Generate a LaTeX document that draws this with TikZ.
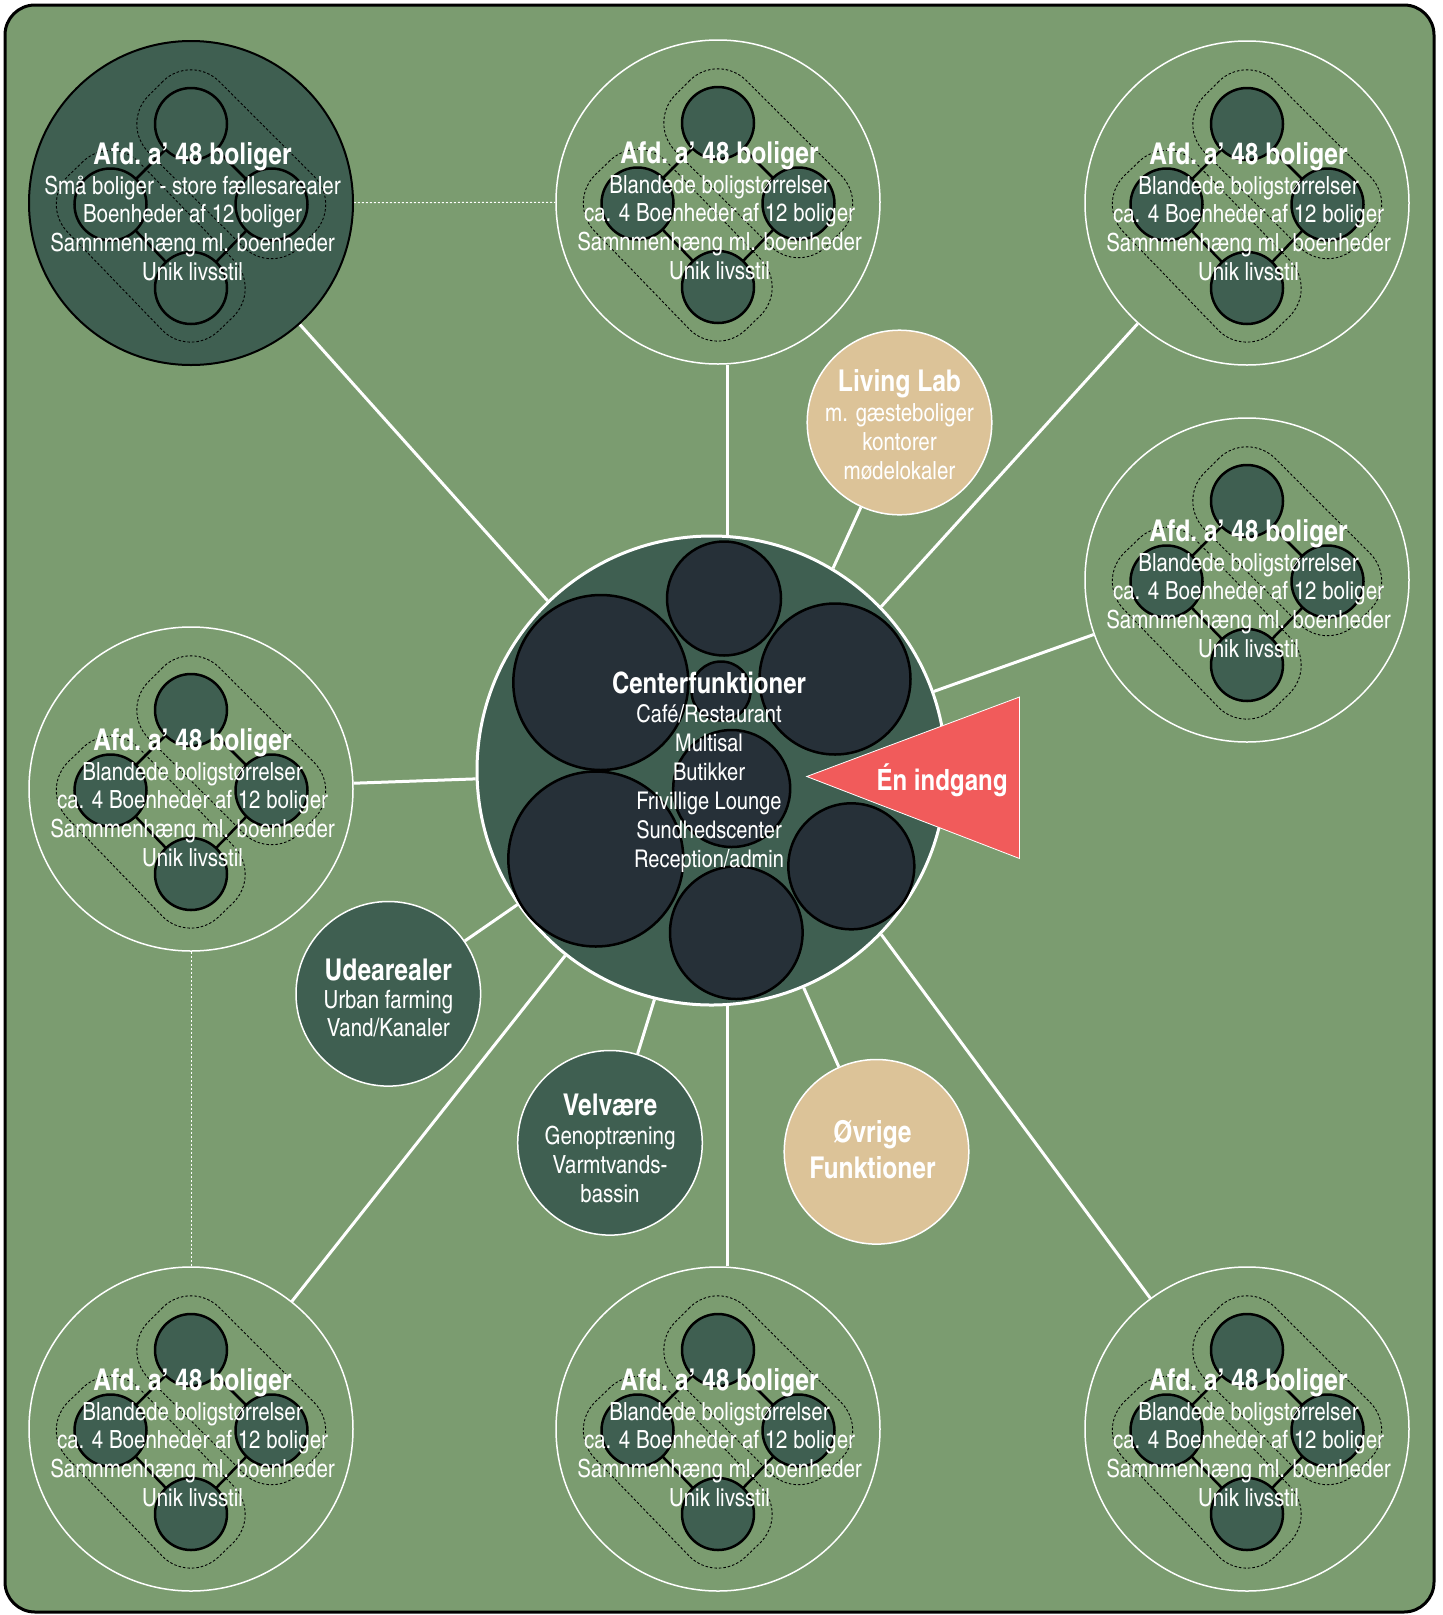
\documentclass[tikz,border=0pt]{standalone}
\usepackage{fontspec}
\setmainfont{texgyreheroscn}[Extension=.otf, UprightFont=*-regular, BoldFont=*-bold]
\usetikzlibrary{calc}

\definecolor{field}{HTML}{7B9C70}
\definecolor{pine}{HTML}{3F5F51}
\definecolor{slate}{HTML}{263038}
\definecolor{sand}{HTML}{DCC398}
\definecolor{signal}{HTML}{F15B5B}

\newcommand{\bodyfont}{\fontsize{25}{28.67}\selectfont}
\newcommand{\headfont}{\fontsize{30}{34}\selectfont\bfseries}
\newcommand{\lines}[1]{\begin{tabular}[t]{@{}c@{}}#1\end{tabular}}

\pgfdeclarelayer{paper}
\pgfdeclarelayer{links}
\pgfsetlayers{paper,links,main}

\tikzset{
  ring/.style={circle, draw=white, line width=1.5pt, minimum size=324pt, inner sep=0pt},
  ringdark/.style={ring, fill=pine, draw=black, line width=2pt},
  unit/.style={draw=black, line width=2.5pt, fill=pine},
  zone/.style={draw=black, line width=0.9pt, dash pattern=on 2.5pt off 2pt, rounded corners=40pt},
  link/.style={draw=black, line width=2.5pt},
  spoke/.style={draw=white, line width=3pt},
  dotlink/.style={draw=white, line width=1pt, dash pattern=on 2pt off 2pt},
  hall/.style={draw=black, line width=2.5pt, fill=slate},
  sat/.style={circle, draw=white, line width=1.5pt, minimum size=184.6pt, inner sep=0pt},
  lbl/.style={text=white, inner sep=0pt, anchor=base, font=\bodyfont},
}

% one housing department: ring, two dashed zones, four linked units, text
\newcommand{\afdeling}[4]{%
  \node[#3] (#1) at #2 {};
  \begin{scope}[shift={#2}]
    \draw[zone, shift={(40.25,-38.75)}, rotate=-45] (-107,-50) rectangle (107,50);
    \draw[zone, shift={(-40.25,43.25)}, rotate=-46] (-108,-50) rectangle (108,50);
    \draw[link] (0,-79) -- (80.5,1.5) -- (0,85) -- (-80.5,1.5) -- cycle;
    \foreach \ux/\uy in {0/-79, 80.5/1.5, 0/85, -80.5/1.5}
      \draw[unit] (\ux,\uy) circle[radius=36pt];
    \node[lbl] (#1-text) at (1.5,-38.7) {\lines{#4}};
  \end{scope}}

\newcommand{\mixed}{\headfont Afd.~a’ 48 boliger\\[1.33pt] Blandede boligstørrelser\\ ca. 4 Boenheder af 12 boliger\\ Samnmenhæng ml. boenheder\\ Unik livsstil}

\begin{document}
\begin{tikzpicture}[x=1pt, y=-1pt]
\useasboundingbox (0,0) rectangle (1443,1615);

\begin{pgfonlayer}{paper}
  \fill[white] (0,0) rectangle (1443,1615);
  \draw[line width=3pt, fill=field, rounded corners=30pt] (5,5) rectangle (1434,1612);
\end{pgfonlayer}

% housing departments
\afdeling{tl}{(191,203)}{ringdark}{\headfont Afd.~a’ 48 boliger\\[1.33pt] Små boliger - store fællesarealer\\ Boenheder af 12 boliger\\ Samnmenhæng ml. boenheder\\ Unik livsstil}
\afdeling{tm}{(718,202)}{ring}{\mixed}
\afdeling{tr}{(1247,203)}{ring}{\mixed}
\afdeling{rm}{(1247,580)}{ring}{\mixed}
\afdeling{lm}{(191,789)}{ring}{\mixed}
\afdeling{bl}{(191,1429)}{ring}{\mixed}
\afdeling{bm}{(718,1429)}{ring}{\mixed}
\afdeling{br}{(1247,1429)}{ring}{\mixed}

% satellite functions
\node[sat, fill=sand] (ll) at (899.5,422.5) {};
\node[sat, fill=pine] (ud) at (388.3,993.8) {};
\node[sat, fill=pine] (vv) at (610,1142.8) {};
\node[sat, fill=sand] (ov) at (876.5,1151.8) {};

% centre
\node[circle, fill=pine, draw=white, line width=3pt, minimum size=469pt, inner sep=0pt] (cc) at (711.5,770.5) {};
\draw[hall] (724,598.5) circle[radius=57pt];
\draw[hall] (600.8,682.5) circle[radius=87.5pt];
\draw[hall] (835,679) circle[radius=75.5pt];
\draw[hall] (721,691) circle[radius=29.5pt];
\draw[hall] (731.7,788.5) circle[radius=58.5pt];
\draw[hall] (595.8,859) circle[radius=87.5pt];
\draw[hall] (736.3,932.7) circle[radius=66.3pt];
\draw[hall] (851.3,866.3) circle[radius=63pt];

\node[lbl, font={\fontsize{24.4}{29}\selectfont}] (cc-text) at (709,693.3)
  {\lines{\fontsize{29.3}{34}\selectfont\bfseries Centerfunktioner\\[0.4pt] Café/Restaurant\\ Multisal\\ Butikker\\ Frivillige Lounge\\ Sundhedscenter\\ Reception/admin}};

% entrance
\fill[signal, draw=white, line width=0.8pt] (806.7,776.5) -- (1019.5,697) -- (1019.5,858.5) -- cycle;
\node[lbl, font={\fontsize{29.3}{34}\selectfont\bfseries}] (entry) at (942,790.7) {Én indgang};

% satellite texts
\node[lbl] (ll-text) at (899.5,391.7) {\lines{\headfont Living Lab\\[1.3pt] m. gæsteboliger\\ kontorer\\ mødelokaler}};
\node[lbl] (ud-text) at (388.3,980) {\lines{\headfont Udearealer\\[-0.4pt] Urban farming\\ Vand/Kanaler}};
\node[lbl] (vv-text) at (610,1115.7) {\lines{\headfont Velvære\\[0.6pt] Genoptræning\\ Varmtvands-\\ bassin}};
\node[lbl] (ov-text) at (872.5,1142.5) {\lines{\headfont Øvrige\\[4.9pt] \headfont Funktioner}};

% connectors
\begin{pgfonlayer}{links}
  \draw[spoke] (cc.134.2) -- (tl);
  \draw[spoke] (cc.86.5) -- (cc.86.5 |- tm.south);
  \draw[spoke] (cc.44.3) -- (tr);
  \draw[spoke] (cc) -- (rm);
  \draw[spoke] (cc) -- (lm);
  \draw[spoke] (cc) -- (bl);
  \draw[spoke] (cc.-86.3) -- (cc.-86.3 |- bm.north);
  \draw[spoke] (cc.-44.9) -- (br);
  \draw[spoke] (cc.59.1) -- (ll);
  \draw[spoke] (cc) -- (ud);
  \draw[spoke] (cc.256) -- (vv);
  \draw[spoke] (cc.293) -- (ov);
  \draw[dotlink] (tl) -- (tm);
  \draw[dotlink] (lm) -- (bl);
\end{pgfonlayer}
\end{tikzpicture}
\end{document}
